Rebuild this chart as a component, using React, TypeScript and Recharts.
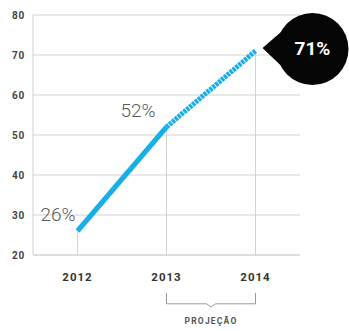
import { CartesianGrid, LabelList, Line, LineChart, ReferenceDot, ReferenceLine, XAxis, YAxis } from "recharts";

const years = [2012, 2013, 2014];
const realValues = [26, 52, null];
const projectedValues = [null, 52, 71];
const pointLabels = ["26%", "52%", "71%"];
const yTicks = [20, 30, 40, 50, 60, 70, 80];
const projectionLabel = "PROJEÇÃO";

const data = years.map((year, i) => ({
  year,
  real: realValues[i],
  proj: projectedValues[i],
  value: realValues[i] ?? projectedValues[i],
}));

const BLUE = "#1aaee6";
const GRID = "#d2d2d2";
const FONT = "Roboto, 'DejaVu Sans', sans-serif";

function XTick(props: any) {
  const { x, y, payload } = props;
  return (
    <text x={x} y={y + 18} textAnchor="middle" fontFamily={FONT} fontWeight={700} fontSize={11.5} letterSpacing={1} fill="#333">
      {payload.value}
    </text>
  );
}

function YTick(props: any) {
  const { x, y, payload } = props;
  return (
    <text x={x} y={y + 4} textAnchor="end" fontFamily={FONT} fontWeight={700} fontSize={10} letterSpacing={0.8} fill="#444">
      {payload.value}
    </text>
  );
}

function PlainLabel(props: any) {
  const { x, y, index } = props;
  if (x == null || index === 2) return null;
  // the 52% sits a bit further left of its point than the 26%
  const dx = index === 0 ? -2 : -11;
  return (
    <text x={x + dx} y={y - 10} textAnchor="end" fontFamily={FONT} fontWeight={300} fontSize={19} fill="#5a5a5a">
      {pointLabels[index]}
    </text>
  );
}

function Bubble(props: any) {
  const { x, y, index } = props;
  if (x == null || index !== 2) return null;
  const cx = x + 57;
  const cy = y - 2;
  return (
    <g>
      <path d={`M${x + 7},${y - 3} L${cx - 28},${cy - 20} L${cx - 28},${cy + 20} Z`} fill="#050505" />
      <circle cx={cx} cy={cy} r={36} fill="#050505" />
      <text x={cx} y={cy + 6} textAnchor="middle" fontFamily={FONT} fontWeight={700} fontSize={19} fill="#fff">
        {pointLabels[index]}
      </text>
    </g>
  );
}

export default function App() {
  return (
    <div style={{ position: "absolute", left: 0, top: 0, background: "#fff" }}>
      <LineChart width={349} height={331} data={data} margin={{ top: 15, right: 49, bottom: 46, left: 0 }}>
        <CartesianGrid stroke={GRID} vertical={false} />
        <XAxis
          type="number"
          dataKey="year"
          domain={[2011.5, 2014.5]}
          ticks={years}
          tickLine={false}
          axisLine={{ stroke: GRID }}
          height={30}
          tick={<XTick />}
        />
        <YAxis
          domain={[20, 80]}
          ticks={yTicks}
          width={33}
          tickLine={false}
          tickSize={0}
          tickMargin={8}
          axisLine={{ stroke: GRID }}
          tick={<YTick />}
        />
        {data.map((d) => (
          <ReferenceLine
            key={d.year}
            segment={[
              { x: d.year, y: 20 },
              { x: d.year, y: d.value },
            ]}
            stroke={GRID}
          />
        ))}
        <ReferenceLine segment={[{ x: 2013, y: 10.5 }, { x: 2013, y: 7.8 }]} stroke="#999" ifOverflow="visible" />
        <ReferenceLine segment={[{ x: 2014, y: 10.5 }, { x: 2014, y: 7.8 }]} stroke="#999" ifOverflow="visible" />
        <ReferenceLine segment={[{ x: 2013, y: 7.8 }, { x: 2013.45, y: 7.8 }]} stroke="#999" ifOverflow="visible" />
        <ReferenceLine segment={[{ x: 2013.55, y: 7.8 }, { x: 2014, y: 7.8 }]} stroke="#999" ifOverflow="visible" />
        <ReferenceLine segment={[{ x: 2013.45, y: 7.8 }, { x: 2013.5, y: 7.0 }]} stroke="#999" ifOverflow="visible" />
        <ReferenceLine segment={[{ x: 2013.5, y: 7.0 }, { x: 2013.55, y: 7.8 }]} stroke="#999" ifOverflow="visible" />
        <ReferenceDot
          x={2013.5}
          y={3.5}
          r={0}
          ifOverflow="visible"
          label={{ value: projectionLabel, position: "center", fontFamily: FONT, fontWeight: 700, fontSize: 8.5, letterSpacing: 1.2, fill: "#555" }}
        />
        <Line type="linear" dataKey="real" stroke={BLUE} strokeWidth={5} dot={false} isAnimationActive={false} connectNulls={false}>
          <LabelList dataKey="real" content={<PlainLabel />} />
        </Line>
        <Line type="linear" dataKey="proj" stroke={BLUE} strokeWidth={5} strokeDasharray="3 0.8" dot={false} isAnimationActive={false}>
          <LabelList dataKey="proj" content={<Bubble />} />
        </Line>
      </LineChart>
    </div>
  );
}
